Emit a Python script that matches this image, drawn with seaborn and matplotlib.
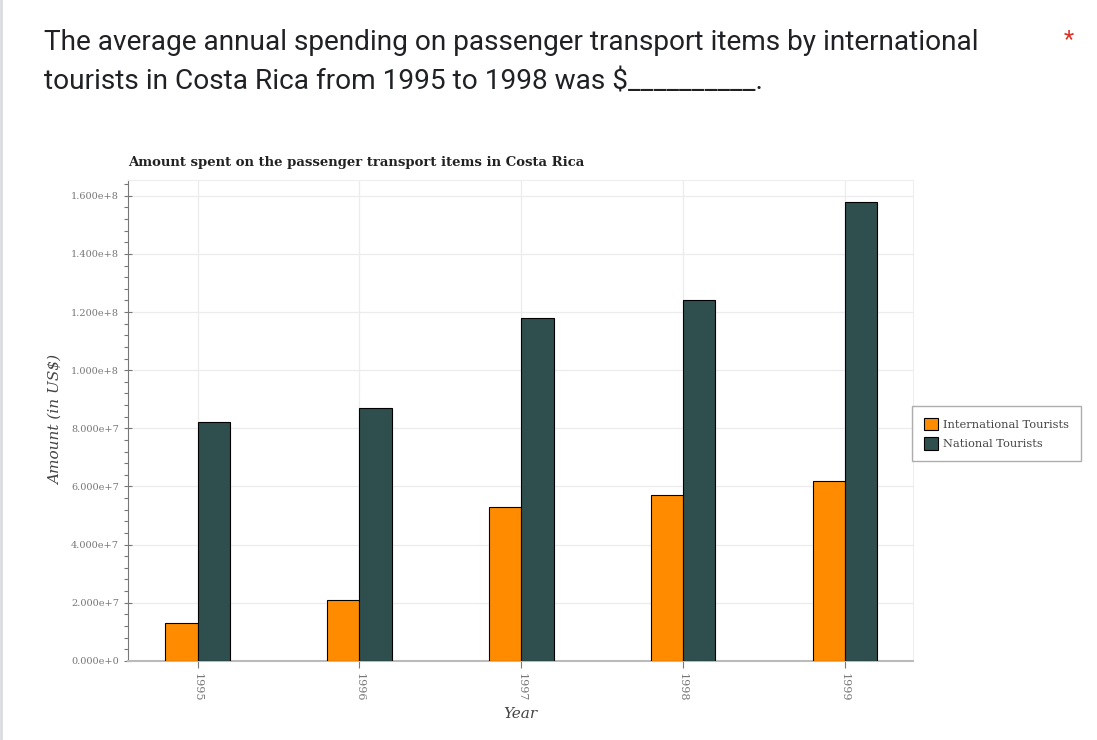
import pandas as pd
import matplotlib.pyplot as plt
import seaborn as sns
from matplotlib.ticker import MultipleLocator

# values
years = ['1995', '1996', '1997', '1998', '1999']
international = [1.3e7, 2.1e7, 5.3e7, 5.7e7, 6.2e7]
national = [8.2e7, 8.7e7, 11.8e7, 12.4e7, 15.8e7]
groups = ['International Tourists', 'National Tourists']
colors = ['#ff8c00', '#2f4f4f']
yticks = [0, 2e7, 4e7, 6e7, 8e7, 1e8, 1.2e8, 1.4e8, 1.6e8]

df = pd.DataFrame({
    'Year': years * 2,
    'Amount': international + national,
    'Tourists': [groups[0]] * len(years) + [groups[1]] * len(years),
})

sns.set_style('white')
plt.rcParams['font.family'] = ['DejaVu Serif']

fig = plt.figure(figsize=(10.97, 7.40), dpi=100)
ax = fig.add_axes([0.1167, 0.107, 0.7155, 0.650])

sns.barplot(data=df, x='Year', y='Amount', hue='Tourists', palette=colors,
            width=0.4, edgecolor='black', linewidth=0.8, saturation=1,
            legend=False, ax=ax, zorder=3)

labels = []
for t in yticks:
    m, e = f'{t:.3e}'.split('e')
    labels.append(f'{m}e+{int(e)}')
ax.set_yticks(yticks)
ax.set_yticklabels(labels)
ax.yaxis.set_minor_locator(MultipleLocator(4e6))
ax.set_xlim(-0.43, 4.42)
ax.set_ylim(0, 1.655e8)

ax.grid(True, color='#ececec', linewidth=0.9, zorder=0)
ax.set_axisbelow(True)
for side in ['top', 'right']:
    ax.spines[side].set_color('#eeeeee')
ax.spines['left'].set_color('#777777')
ax.spines['bottom'].set_color('#bbbbbb')
ax.spines['bottom'].set_linewidth(1.5)

ax.tick_params(axis='y', which='major', direction='inout', length=6, width=0.8,
               color='#777777', labelsize=7, labelcolor='#777777', left=True)
ax.tick_params(axis='y', which='minor', direction='out', length=3, width=0.8,
               color='#777777', left=True)
ax.tick_params(axis='x', direction='out', length=5, color='#777777',
               labelsize=8, labelcolor='#777777', labelrotation=-90, bottom=True)

ax.set_xlabel('Year', fontstyle='italic', fontsize=11, color='#444444', labelpad=4)
ax.set_ylabel('Amount (in US$)', fontstyle='italic', fontsize=11, color='#444444', labelpad=6)
ax.set_title('Amount spent on the passenger transport items in Costa Rica',
             loc='left', fontweight='bold', fontsize=9.5, color='#222222', pad=10)

handles = [plt.Rectangle((0, 0), 1, 1, facecolor=c, edgecolor='black', linewidth=0.8)
           for c in colors]
leg = ax.legend(handles, groups, loc='upper left', bbox_to_anchor=(0.999, 0.53),
                borderaxespad=0, fancybox=False, frameon=True, fontsize=8.2,
                handlelength=1.2, handleheight=1.3, handletextpad=0.5,
                labelspacing=0.6, borderpad=1.05, labelcolor='#444444')
leg.get_frame().set_edgecolor('#999999')
leg.get_frame().set_linewidth(1.0)

# question text above the chart
fig.text(44 / 1097, 1 - 50 / 740, 'The average annual spending on passenger transport items by international',
         family='Roboto', fontsize=20.2, color='#202124')
fig.text(44 / 1097, 1 - 90 / 740, 'tourists in Costa Rica from 1995 to 1998 was $__________.',
         family='Roboto', fontsize=20.2, color='#202124')
fig.text(1064 / 1097, 1 - 46 / 740, '*', family='Roboto', fontsize=17, color='#d93025')
fig.add_artist(plt.Line2D([0.001, 0.001], [0, 1], color='#dadce0', linewidth=2,
                          transform=fig.transFigure))

fig.savefig('out.png', dpi=100)
